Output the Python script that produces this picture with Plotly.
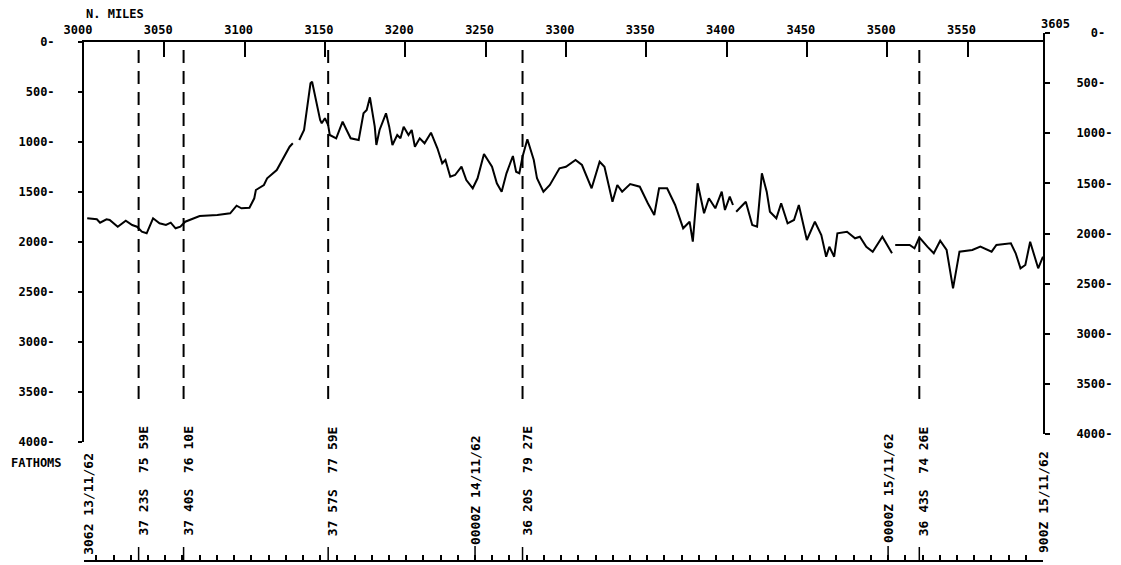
import plotly.graph_objects as go

# ---------------- data ----------------
miles = [3002, 3008, 3010, 3014, 3016, 3021, 3026, 3030, 3033, 3036, 3039, 3043, 3047, 3051, 3054,
         3057, 3060, 3063, 3072, 3083, 3091, 3095, 3098, 3103, 3106, 3107, 3112, 3114, 3120, 3124,
         3128, 3130, 3132, 3134, 3137, 3139, 3141, 3142, 3144, 3147, 3148, 3150, 3152, 3153, 3157,
         3161, 3164, 3166, 3171, 3174, 3176, 3178, 3181, 3182, 3184, 3188, 3190, 3192, 3195, 3197,
         3199, 3202, 3204, 3206, 3209, 3212, 3216, 3220, 3223, 3225, 3228, 3231, 3235, 3238, 3242,
         3245, 3249, 3252, 3254, 3257, 3260, 3263, 3267, 3269, 3271, 3273, 3276, 3280, 3282, 3286,
         3290, 3296, 3300, 3306, 3310, 3316, 3321, 3324, 3329, 3332, 3335, 3340, 3346, 3351, 3355,
         3358, 3363, 3368, 3373, 3377, 3379, 3382, 3386, 3389, 3393, 3397, 3399, 3402, 3404, 3405,
         3406, 3412, 3416, 3419, 3422, 3425, 3427, 3431, 3434, 3438, 3442, 3445, 3450, 3455, 3459,
         3462, 3464, 3467, 3469, 3475, 3480, 3483, 3487, 3491, 3497, 3503, 3504, 3505, 3514, 3517,
         3520, 3525, 3529, 3533, 3537, 3541, 3543, 3545, 3553, 3558, 3565, 3568, 3577, 3580, 3583,
         3586, 3589, 3591, 3594, 3597]
depth = [1763, 1773, 1807, 1773, 1780, 1847, 1787, 1830, 1847, 1897, 1913, 1763, 1813, 1830, 1807,
         1863, 1847, 1797, 1740, 1730, 1713, 1637, 1663, 1657, 1563, 1480, 1430, 1363, 1280, 1163,
         1047, 1013, None, 980, 880, 647, 413, 397, 547, 780, 813, 763, 830, 930, 963,
         797, 897, 963, 980, 713, 680, 553, 847, 1030, 880, 713, 847, 1030, 930, 963,
         847, 930, 880, 1047, 963, 1013, 907, 1063, 1213, 1180, 1347, 1330, 1247, 1380, 1463,
         1363, 1120, 1197, 1247, 1413, 1497, 1313, 1140, 1297, 1313, 1147, 973, 1180, 1363, 1497,
         1430, 1263, 1247, 1180, 1230, 1463, 1197, 1247, 1597, 1430, 1497, 1420, 1447, 1613, 1730,
         1463, 1463, 1630, 1863, 1797, 1997, 1413, 1713, 1563, 1663, 1497, 1680, 1547, 1630, None,
         1697, 1597, 1830, 1847, 1313, 1497, 1697, 1763, 1613, 1813, 1780, 1630, 1980, 1797, 1930,
         2147, 2047, 2147, 1913, 1897, 1963, 1947, 2047, 2097, 1947, 2113, None, 2030, 2030, 2063,
         1953, 2047, 2113, 1987, 2080, 2463, 2280, 2097, 2080, 2047, 2097, 2030, 2013, 2113, 2263,
         2230, 1997, 2113, 2263, 2147]

mile_ticks = [3000, 3050, 3100, 3150, 3200, 3250, 3300, 3350, 3400, 3450, 3500, 3550]
mile_tick_labels = ["3000", "3050", "3100", "3150", "3200", "3250", "3300", "3350", "3400",
                    "3450", "3500", "3550"]
mile_end_value = 3605
mile_end_label = "3605"

depth_ticks = [0, 500, 1000, 1500, 2000, 2500, 3000, 3500, 4000]
depth_tick_labels = ["0-", "500-", "1000-", "1500-", "2000-", "2500-", "3000-", "3500-", "4000-"]
right_depth_tick_labels = ["\u00a0\u00a00-", "500-", "1000-", "1500-", "2000-", "2500-",
                           "3000-", "3500-", "4000-"]

station_miles = [3034, 3062, 3152, 3273, 3520]
station_labels = ["37 23S  75 59E", "37 40S  76 10E", "37 57S  77 59E",
                  "36 20S  79 27E", "36 43S  74 26E"]

time_hours = [1.5, 24, 48, 57]
time_labels = ["3062 13/11/62", "0000Z 14/11/62", "0000Z 15/11/62", "900Z 15/11/62"]

FONT = "DejaVu Sans Mono"

# ---------------- geometry helpers (paper layout) ----------------
W, H = 1121, 565
ML, MR, MT, MB = 84, 78, 30, 4
PH = H - MT - MB  # 531
PW = W - ML - MR
X0, X1 = 3000, 3597


def pyfrac(py):
    return (H - MB - py) / PH


fig = go.Figure()

# profile
fig.add_trace(go.Scatter(x=miles, y=depth, mode="lines",
                         line=dict(color="black", width=2), connectgaps=False,
                         xaxis="x", yaxis="y", hoverinfo="skip", showlegend=False))

# dashed station lines
for m in station_miles:
    fig.add_trace(go.Scatter(x=[m, m], y=[80, 3580], mode="lines",
                             line=dict(color="black", width=2, dash="13px,8px"),
                             xaxis="x", yaxis="y", hoverinfo="skip", showlegend=False))

# invisible trace for right axis
fig.add_trace(go.Scatter(x=[3000], y=[0], mode="markers", marker=dict(opacity=0),
                         xaxis="x", yaxis="y2", hoverinfo="skip", showlegend=False))

# long ticks on bottom time strip
sx, sy = [], []
for m in station_miles:
    sx += [m, m, None]
    sy += [0, 14, None]
fig.add_trace(go.Scatter(x=sx, y=sy, mode="lines", line=dict(color="black", width=1.5),
                         xaxis="x", yaxis="y3", hoverinfo="skip", showlegend=False))
tx, ty = [], []
for h in time_hours[1:3]:
    tx += [h, h, None]
    ty += [0, 15, None]
fig.add_trace(go.Scatter(x=tx, y=ty, mode="lines", line=dict(color="black", width=1.5),
                         xaxis="x2", yaxis="y3", hoverinfo="skip", showlegend=False))

tfont = dict(family=FONT, size=12, color="black", weight="bold")

fig.update_layout(
    width=W, height=H, autosize=False,
    margin=dict(l=ML, r=MR, t=MT, b=MB, pad=0, autoexpand=False),
    paper_bgcolor="white", plot_bgcolor="rgba(0,0,0,0)",
    showlegend=False,
    xaxis=dict(range=[X0, X1], side="top", anchor="y", domain=[0, 1], automargin=False,
               tickmode="array", tickvals=mile_ticks, ticktext=mile_tick_labels,
               ticks="inside", ticklen=15, tickwidth=2, tickcolor="black",
               showline=True, linewidth=2, linecolor="black",
               showgrid=False, zeroline=False, tickfont=tfont,
               ticklabelstandoff=1, ticklabelshift=-6),
    xaxis2=dict(range=[1.28, 57.0], overlaying="x", anchor="free", position=0, side="bottom",
                automargin=False,
                tickmode="linear", tick0=0, dtick=1, ticks="inside", ticklen=5,
                tickwidth=1.5, tickcolor="black", showticklabels=False,
                showline=True, linewidth=2, linecolor="black",
                showgrid=False, zeroline=False),
    yaxis=dict(range=[4000, 0], domain=[pyfrac(442), pyfrac(42)], anchor="x", automargin=False,
               tickmode="array", tickvals=depth_ticks, ticktext=depth_tick_labels,
               ticks="outside", ticklen=4, tickwidth=2, tickcolor="black",
               showline=True, linewidth=2, linecolor="black",
               showgrid=False, zeroline=False, tickfont=tfont, ticklabelstandoff=21),
    yaxis2=dict(range=[4000, 0], domain=[pyfrac(434), pyfrac(33)], anchor="x", side="right",
                automargin=False,
                tickmode="array", tickvals=depth_ticks, ticktext=right_depth_tick_labels,
                ticks="outside", ticklen=5, tickwidth=2, tickcolor="black",
                showline=True, linewidth=2, linecolor="black",
                showgrid=False, zeroline=False, tickfont=tfont, ticklabelstandoff=24),
    yaxis3=dict(range=[0, 119], domain=[0, pyfrac(442)], anchor="x", visible=False,
                automargin=False),
)

ann = []
afont = dict(family=FONT, size=13, color="black", weight="bold")
for m, lab in zip(station_miles, station_labels):
    ann.append(dict(x=m, y=23, xref="x", yref="y3", text=lab, textangle=-90,
                    showarrow=False, xanchor="center", yanchor="bottom", xshift=4,
                    font=afont))
time_bottoms = [4, 14, 16, 6]
for h, lab, b in zip(time_hours, time_labels, time_bottoms):
    ann.append(dict(x=h, y=b, xref="x2", yref="y3", text=lab, textangle=-90,
                    showarrow=False, xanchor="center", yanchor="bottom",
                    font=afont))
ann.append(dict(x=(mile_end_value - X0) / (X1 - X0), y=pyfrac(24), xref="paper", yref="paper",
                text=mile_end_label, showarrow=False, xanchor="center", yanchor="middle",
                font=tfont))
ann.append(dict(x=0, y=pyfrac(14), xref="paper", yref="paper", text="N. MILES",
                showarrow=False, xanchor="left", yanchor="middle", font=tfont))
ann.append(dict(x=(36 - ML) / PW, y=98, xref="paper", yref="y3", text="FATHOMS",
                showarrow=False, xanchor="center", yanchor="middle", font=tfont))
fig.update_layout(annotations=ann)

fig.write_html("out.html", config={"displayModeBar": False},
               post_script="document.body.style.margin='0px';document.body.style.overflow='hidden';")
